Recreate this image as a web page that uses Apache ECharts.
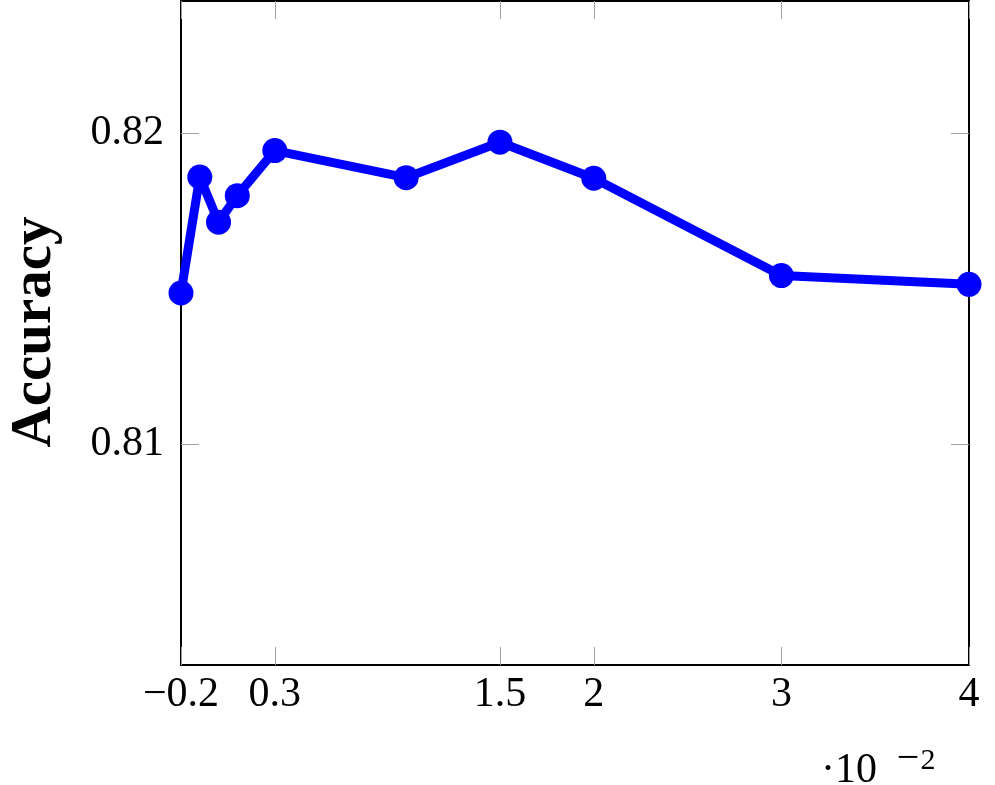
<!DOCTYPE html>
<html>
<head>
<meta charset="utf-8">
<script src="https://cdn.jsdelivr.net/npm/echarts@6/dist/echarts.min.js"></script>
<style>
html,body{margin:0;padding:0;background:#fff;}
#chart{width:995px;height:785px;}
</style>
</head>
<body>
<div id="chart"></div>
<script>
// Data (x in units of 10^-2)
const xValues = [-0.2, -0.1, 0.0, 0.1, 0.3, 1.0, 1.5, 2, 3, 4];
const accuracy = [0.81486, 0.81859, 0.81714, 0.81799, 0.81944, 0.81857, 0.81971, 0.81855, 0.81542, 0.81514];
const xTicks = [-0.2, 0.3, 1.5, 2, 3, 4];
const yTicks = [0.81, 0.82];
const yAxisTitle = 'Accuracy';

const FONT = '"Liberation Serif", "DejaVu Serif", serif';
const axisLineStyle = { color: '#000', width: 2 };
const tickStyle = { color: '#a0a0a0', width: 1 };

function fmtX(v) {
  const s = String(Math.abs(Math.round(v * 10) / 10));
  return v < 0 ? '\u2212' + s : s;
}

const chart = echarts.init(document.getElementById('chart'));
chart.setOption({
  animation: false,
  backgroundColor: '#fff',
  grid: { left: 181, right: 26, top: 1, bottom: 120, outerBoundsMode: 'none' },
  xAxis: [
    {
      type: 'value', min: -0.2, max: 4, position: 'bottom',
      axisLine: { show: true, onZero: false, lineStyle: axisLineStyle },
      axisTick: { show: true, inside: true, length: 18, customValues: xTicks, lineStyle: tickStyle },
      axisLabel: { show: true, customValues: xTicks, formatter: fmtX, fontFamily: FONT, fontSize: 42, color: '#000', margin: 9 },
      splitLine: { show: false }
    },
    {
      type: 'value', min: -0.2, max: 4, position: 'top',
      axisLine: { show: true, onZero: false, lineStyle: axisLineStyle },
      axisTick: { show: true, inside: true, length: 18, customValues: xTicks, lineStyle: tickStyle },
      axisLabel: { show: false },
      splitLine: { show: false }
    }
  ],
  yAxis: [
    {
      type: 'value', min: 0.8029, max: 0.82425, position: 'left',
      axisLine: { show: true, onZero: false, lineStyle: axisLineStyle },
      axisTick: { show: true, inside: true, length: 18, customValues: yTicks, lineStyle: tickStyle },
      axisLabel: { show: true, customValues: yTicks, formatter: v => v.toFixed(2), fontFamily: FONT, fontSize: 42, color: '#000', margin: 17 },
      splitLine: { show: false }
    },
    {
      type: 'value', min: 0.8029, max: 0.82425, position: 'right',
      axisLine: { show: true, onZero: false, lineStyle: axisLineStyle },
      axisTick: { show: true, inside: true, length: 18, customValues: yTicks, lineStyle: tickStyle },
      axisLabel: { show: false },
      splitLine: { show: false }
    }
  ],
  graphic: [
    {
      type: 'text', x: 35, y: 332, rotation: Math.PI / 2,
      style: { text: yAxisTitle, fontFamily: FONT, fontWeight: 'bold', fontSize: 57, fill: '#000', align: 'center', verticalAlign: 'middle' }
    },
    {
      type: 'text', x: 821, y: 771,
      style: { text: '\u00B710', fontFamily: FONT, fontSize: 42, fill: '#000', align: 'left', verticalAlign: 'middle' }
    },
    {
      type: 'text', x: 908, y: 759,
      style: { text: '\u2212', fontFamily: FONT, fontSize: 40, fill: '#000', align: 'center', verticalAlign: 'middle' }
    },
    {
      type: 'text', x: 928, y: 761,
      style: { text: '2', fontFamily: FONT, fontSize: 30, fill: '#000', align: 'center', verticalAlign: 'middle' }
    }
  ],
  series: [
    {
      type: 'line',
      xAxisIndex: 0, yAxisIndex: 0,
      data: xValues.map((x, i) => [x, accuracy[i]]),
      clip: false,
      symbol: 'circle', symbolSize: 25,
      lineStyle: { color: '#0000ff', width: 9 },
      itemStyle: { color: '#0000ff' },
      emphasis: { disabled: true }
    }
  ]
});
</script>
</body>
</html>
